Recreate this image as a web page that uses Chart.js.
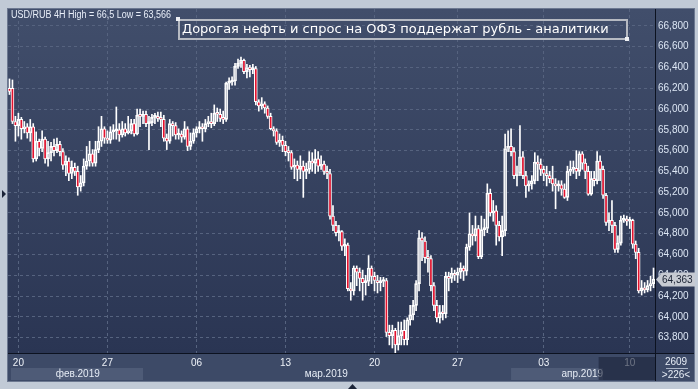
<!DOCTYPE html>
<html>
<head>
<meta charset="utf-8">
<script src="https://cdn.jsdelivr.net/npm/chart.js@4.4.1/dist/chart.umd.min.js"></script>
<style>
  html, body { margin: 0; padding: 0; background: #c1cad6; }
  canvas { display: block; }
</style>
</head>
<body>
<canvas id="chart" width="698" height="389"></canvas>
<script>
// USD/RUB 4H candles (prices in roubles)
const openP = [
  66.20, 66.20, 65.88, 65.84, 65.90, 65.81, 65.83, 65.77, 65.83, 65.52,
  65.69, 65.62, 65.71, 65.52, 65.58, 65.64, 65.60, 65.66, 65.59, 65.46,
  65.50, 65.38, 65.44, 65.40, 65.25, 65.29, 65.45, 65.50, 65.57, 65.48,
  65.61, 65.69, 65.81, 65.72, 65.70, 65.78, 65.79, 65.80, 65.75, 65.81,
  65.77, 65.79, 65.86, 65.76, 65.94, 65.93, 65.95, 65.86, 65.87, 65.92,
  65.93, 65.91, 65.90, 65.72, 65.69, 65.86, 65.84, 65.75, 65.76, 65.73,
  65.81, 65.64, 65.69, 65.77, 65.81, 65.82, 65.81, 65.86, 65.88, 65.86,
  65.96, 65.95, 65.91, 65.90, 66.25, 66.26, 66.27, 66.41, 66.44, 66.47,
  66.36, 66.40, 66.38, 66.39, 66.07, 66.03, 66.05, 66.01, 65.93, 65.81,
  65.79, 65.68, 65.70, 65.65, 65.59, 65.58, 65.44, 65.46, 65.42, 65.45,
  65.40, 65.42, 65.50, 65.48, 65.52, 65.45, 65.47, 65.40, 65.38, 64.97,
  64.88, 64.81, 64.82, 64.68, 64.69, 64.27, 64.25, 64.47, 64.43, 64.37,
  64.33, 64.34, 64.47, 64.39, 64.35, 64.33, 64.34, 64.35, 63.85, 63.82,
  63.87, 63.73, 63.82, 63.87, 63.78, 63.97, 64.02, 64.11, 64.32, 64.76,
  64.73, 64.57, 64.56, 64.30, 64.11, 63.99, 64.04, 64.03, 64.39, 64.37,
  64.42, 64.40, 64.43, 64.47, 64.44, 64.67, 64.80, 64.78, 64.85, 64.58,
  64.84, 64.85, 65.19, 65.00, 65.02, 64.88, 64.77, 64.83, 65.62, 65.64,
  65.59, 65.36, 65.38, 65.54, 65.36, 65.26, 65.28, 65.31, 65.49, 65.47,
  65.42, 65.38, 65.36, 65.33, 65.28, 65.26, 65.27, 65.23, 65.15, 65.40,
  65.42, 65.43, 65.40, 65.57, 65.48, 65.40, 65.18, 65.33, 65.31, 65.50,
  65.42, 65.17, 64.91, 64.93, 64.88, 64.65, 64.71, 64.93, 64.94, 64.92,
  64.93, 64.70, 64.62, 64.25, 64.28, 64.26, 64.30, 64.32
];
const highP = [
  66.29, 66.28, 65.93, 65.96, 65.92, 65.88, 65.86, 65.90, 65.86, 65.78,
  65.71, 65.79, 65.73, 65.69, 65.68, 65.71, 65.72, 65.69, 65.62, 65.55,
  65.53, 65.50, 65.48, 65.45, 65.36, 65.52, 65.64, 65.69, 65.61, 65.69,
  65.83, 65.93, 65.83, 65.79, 65.83, 65.85, 66.02, 65.86, 65.88, 65.86,
  65.93, 65.90, 65.90, 66.00, 66.00, 65.98, 65.98, 65.93, 65.95, 65.96,
  65.97, 65.97, 65.94, 65.76, 65.90, 65.88, 65.87, 65.81, 65.79, 65.88,
  65.83, 65.77, 65.81, 65.83, 65.88, 65.86, 65.90, 65.93, 65.96, 66.04,
  66.01, 66.00, 65.98, 66.26, 66.30, 66.31, 66.44, 66.48, 66.50, 66.48,
  66.43, 66.42, 66.43, 66.41, 66.09, 66.11, 66.07, 66.03, 65.96, 65.83,
  65.81, 65.76, 65.74, 65.69, 65.64, 65.60, 65.52, 65.50, 65.55, 65.50,
  65.48, 65.59, 65.58, 65.61, 65.59, 65.55, 65.50, 65.45, 65.42, 65.07,
  64.92, 64.88, 64.83, 64.75, 64.71, 64.33, 64.49, 64.49, 64.47, 64.45,
  64.40, 64.59, 64.49, 64.43, 64.40, 64.38, 64.38, 64.37, 63.92, 63.92,
  63.89, 63.95, 63.95, 63.97, 63.99, 64.11, 64.16, 64.35, 64.83, 64.81,
  64.77, 64.64, 64.59, 64.33, 64.16, 64.11, 64.11, 64.43, 64.43, 64.47,
  64.45, 64.47, 64.52, 64.49, 64.70, 65.00, 64.88, 64.97, 64.88, 64.97,
  64.94, 65.28, 65.23, 65.12, 65.07, 64.92, 64.97, 65.76, 65.79, 65.81,
  65.63, 65.45, 65.84, 65.59, 65.40, 65.31, 65.36, 65.58, 65.55, 65.52,
  65.45, 65.45, 65.40, 65.45, 65.33, 65.31, 65.31, 65.28, 65.45, 65.50,
  65.50, 65.60, 65.59, 65.59, 65.52, 65.45, 65.40, 65.40, 65.59, 65.55,
  65.45, 65.19, 65.00, 65.12, 64.91, 64.78, 64.97, 64.98, 64.97, 64.96,
  64.94, 64.73, 64.66, 64.35, 64.33, 64.35, 64.39, 64.47
];
const lowP = [
  66.14, 65.86, 65.69, 65.74, 65.71, 65.77, 65.72, 65.69, 65.49, 65.50,
  65.55, 65.59, 65.48, 65.45, 65.50, 65.55, 65.58, 65.55, 65.42, 65.36,
  65.31, 65.33, 65.36, 65.17, 65.21, 65.26, 65.42, 65.45, 65.45, 65.45,
  65.58, 65.64, 65.67, 65.67, 65.67, 65.71, 65.71, 65.69, 65.73, 65.74,
  65.76, 65.76, 65.74, 65.75, 65.83, 65.86, 65.83, 65.61, 65.84, 65.86,
  65.88, 65.83, 65.69, 65.61, 65.67, 65.74, 65.71, 65.71, 65.68, 65.71,
  65.60, 65.61, 65.67, 65.73, 65.77, 65.69, 65.78, 65.83, 65.82, 65.84,
  65.88, 65.88, 65.86, 65.88, 66.19, 66.23, 66.23, 66.39, 66.40, 66.34,
  66.30, 66.31, 66.34, 66.04, 65.98, 66.00, 65.96, 65.91, 65.80, 65.74,
  65.66, 65.64, 65.59, 65.55, 65.50, 65.42, 65.33, 65.31, 65.33, 65.15,
  65.33, 65.38, 65.40, 65.38, 65.40, 65.42, 65.37, 65.33, 64.94, 64.83,
  64.78, 64.73, 64.64, 64.59, 64.25, 64.16, 64.21, 64.30, 64.25, 64.16,
  64.21, 64.30, 64.32, 64.25, 64.23, 64.25, 64.29, 63.81, 63.73, 63.70,
  63.566, 63.68, 63.73, 63.73, 63.73, 63.92, 63.97, 64.06, 64.25, 64.54,
  64.52, 64.43, 64.25, 64.06, 63.95, 63.94, 63.97, 63.99, 64.25, 64.33,
  64.35, 64.33, 64.37, 64.35, 64.40, 64.64, 64.69, 64.73, 64.56, 64.56,
  64.78, 64.81, 64.97, 64.92, 64.69, 64.73, 64.59, 64.78, 65.59, 65.55,
  65.33, 65.26, 65.36, 65.33, 65.15, 65.21, 65.23, 65.28, 65.31, 65.36,
  65.31, 65.26, 65.29, 65.21, 65.04, 65.21, 65.17, 65.14, 65.12, 65.36,
  65.38, 65.33, 65.36, 65.42, 65.33, 65.17, 65.17, 65.26, 65.28, 65.31,
  65.14, 64.88, 64.83, 64.81, 64.62, 64.62, 64.69, 64.91, 64.88, 64.85,
  64.66, 64.56, 64.23, 64.21, 64.23, 64.24, 64.25, 64.28
];
const closeP = [
  66.17, 65.88, 65.84, 65.90, 65.81, 65.83, 65.77, 65.83, 65.52, 65.69,
  65.62, 65.71, 65.52, 65.58, 65.64, 65.60, 65.66, 65.59, 65.46, 65.50,
  65.38, 65.44, 65.40, 65.25, 65.29, 65.45, 65.50, 65.57, 65.48, 65.61,
  65.69, 65.81, 65.72, 65.70, 65.78, 65.79, 65.80, 65.75, 65.81, 65.77,
  65.79, 65.86, 65.76, 65.94, 65.93, 65.95, 65.86, 65.87, 65.92, 65.93,
  65.91, 65.90, 65.72, 65.69, 65.86, 65.84, 65.75, 65.76, 65.73, 65.81,
  65.64, 65.69, 65.77, 65.81, 65.82, 65.81, 65.86, 65.88, 65.86, 65.96,
  65.95, 65.91, 65.90, 66.25, 66.26, 66.27, 66.41, 66.44, 66.47, 66.36,
  66.40, 66.38, 66.39, 66.07, 66.03, 66.05, 66.01, 65.93, 65.81, 65.79,
  65.68, 65.70, 65.65, 65.59, 65.58, 65.44, 65.46, 65.42, 65.45, 65.40,
  65.42, 65.50, 65.48, 65.52, 65.45, 65.47, 65.40, 65.38, 64.97, 64.88,
  64.81, 64.82, 64.68, 64.69, 64.27, 64.25, 64.47, 64.43, 64.37, 64.33,
  64.34, 64.47, 64.39, 64.35, 64.33, 64.34, 64.35, 63.85, 63.82, 63.87,
  63.73, 63.82, 63.87, 63.78, 63.97, 64.02, 64.11, 64.32, 64.76, 64.73,
  64.57, 64.56, 64.30, 64.11, 63.99, 64.04, 64.03, 64.39, 64.37, 64.42,
  64.40, 64.43, 64.47, 64.44, 64.67, 64.80, 64.78, 64.85, 64.58, 64.84,
  64.85, 65.19, 65.00, 65.02, 64.88, 64.77, 64.83, 65.62, 65.64, 65.59,
  65.36, 65.38, 65.54, 65.36, 65.26, 65.28, 65.31, 65.49, 65.47, 65.42,
  65.38, 65.36, 65.33, 65.28, 65.26, 65.27, 65.23, 65.15, 65.40, 65.42,
  65.43, 65.40, 65.57, 65.48, 65.40, 65.18, 65.33, 65.31, 65.50, 65.42,
  65.17, 64.91, 64.93, 64.88, 64.65, 64.71, 64.93, 64.94, 64.92, 64.93,
  64.70, 64.62, 64.25, 64.28, 64.26, 64.30, 64.32, 64.363
];

// axis labels
const weekTickIdx = [3, 33, 63, 93, 123, 151, 180, 209];
const weekTickLabels = ['20', '27', '06', '13', '20', '27', '03', '10'];
const priceTicks = [63.8, 64.0, 64.2, 64.4, 64.6, 64.8, 65.0, 65.2, 65.4, 65.6, 65.8, 66.0, 66.2, 66.4, 66.6, 66.8];
const monthLabels = ['фев.2019', 'мар.2019', 'апр.2019'];
const monthLabelIdx = [23, 114, 200];
const yMin = 63.652, yMax = 66.963;

const headerText = 'USD/RUB 4H High = 66,5 Low = 63,566';
const newsText = 'Дорогая нефть и спрос на ОФЗ поддержат рубль - аналитики';

const barLabels = closeP.map((_, i) => String(i));
const isBear = closeP.map((c, i) => c < openP[i]);

const BULL = 'rgba(0,0,0,0)';
const BEAR = '#e3122e';
const fmt = v => v.toFixed(3).replace('.', ',');

const decor = {
  id: 'decor',
  beforeDraw(chart) {
    const { ctx, chartArea: a } = chart;
    const xs = chart.scales.x;
    ctx.save();
    ctx.fillStyle = '#c1cad6';
    ctx.fillRect(0, 0, 698, 389);
    // plot + price panel
    const g = ctx.createLinearGradient(0, a.top, 0, a.bottom);
    g.addColorStop(0, '#414e6b');
    g.addColorStop(1, '#2a3553');
    ctx.fillStyle = g;
    ctx.fillRect(a.left, a.top, 694 - a.left, a.bottom - a.top);
    // time panel
    ctx.fillStyle = '#3d4a67';
    ctx.fillRect(a.left, a.bottom, 694 - a.left, 381 - a.bottom);
    // lighter month bands
    ctx.fillStyle = '#4e5b77';
    ctx.fillRect(11, 368, xs.getPixelForValue(45) - 11, 12);
    ctx.fillRect(xs.getPixelForValue(169), 368, xs.getPixelForValue(200) - xs.getPixelForValue(169), 12);
    ctx.restore();
  },
  afterDraw(chart) {
    const { ctx, chartArea: a } = chart;
    const xs = chart.scales.x, ys = chart.scales.y;
    ctx.save();
    // month labels
    ctx.font = '10px "Liberation Sans", Arial, sans-serif';
    ctx.fillStyle = '#e6ecf5';
    ctx.textBaseline = 'middle';
    ctx.textAlign = 'center';
    ctx.fillText(monthLabels[0], xs.getPixelForValue(monthLabelIdx[0]), 374);
    ctx.textAlign = 'right';
    ctx.fillText(monthLabels[1], xs.getPixelForValue(monthLabelIdx[1]), 374);
    ctx.fillText(monthLabels[2], xs.getPixelForValue(monthLabelIdx[2]), 374);
    // dark shift box over the last week
    ctx.fillStyle = 'rgba(28,36,58,0.62)';
    ctx.fillRect(xs.getPixelForValue(198.5), 357, a.right - xs.getPixelForValue(198.5), 23);
    // separators
    ctx.strokeStyle = '#0c1220';
    ctx.lineWidth = 1;
    ctx.beginPath();
    ctx.moveTo(a.right + 0.5, a.top); ctx.lineTo(a.right + 0.5, 381);
    ctx.moveTo(a.left, a.bottom + 0.5); ctx.lineTo(694, a.bottom + 0.5);
    ctx.stroke();
    ctx.strokeStyle = '#6c7890';
    ctx.strokeRect(a.left - 0.5, a.top - 0.5, 694 - a.left + 1, 381 - a.top + 1);
    // header
    ctx.fillStyle = '#e8eef8';
    ctx.textAlign = 'left';
    ctx.fillText(headerText, 11, 15, 160);
    // news box
    ctx.strokeStyle = '#b6bac2';
    ctx.lineWidth = 2;
    ctx.strokeRect(179, 20, 448, 19);
    ctx.fillStyle = '#eef0f4';
    ctx.fillRect(176, 17, 4, 4);
    ctx.fillRect(625, 37, 4, 4);
    ctx.fillStyle = '#ffffff';
    ctx.font = '13px "DejaVu Sans", sans-serif';
    ctx.fillText(newsText, 182, 29.5, 428);
    // price label with arrow
    const last = closeP[closeP.length - 1];
    const py = Math.round(ys.getPixelForValue(last)) + 0.5;
    ctx.fillStyle = '#c6cad2';
    ctx.beginPath();
    ctx.moveTo(656, py);
    ctx.lineTo(662, py - 7);
    ctx.lineTo(695, py - 7);
    ctx.lineTo(695, py + 7);
    ctx.lineTo(662, py + 7);
    ctx.closePath();
    ctx.fill();
    ctx.fillStyle = '#1a2233';
    ctx.font = '10px "Liberation Sans", Arial, sans-serif';
    ctx.fillText(fmt(last), 662, py + 0.5);
    // corner counters
    ctx.fillStyle = '#e6ecf5';
    ctx.textAlign = 'center';
    ctx.fillText('2609', 676, 362);
    ctx.fillText('>226<', 676, 375);
    ctx.strokeStyle = '#aab4c6';
    ctx.lineWidth = 1;
    ctx.beginPath();
    ctx.moveTo(666, 368.5); ctx.lineTo(688, 368.5);
    ctx.stroke();
    // shift markers
    ctx.fillStyle = '#1b2438';
    ctx.beginPath();
    ctx.moveTo(2, 190); ctx.lineTo(6, 194); ctx.lineTo(2, 198); ctx.closePath();
    ctx.fill();
    ctx.beginPath();
    ctx.moveTo(348, 389); ctx.lineTo(352.5, 384); ctx.lineTo(357, 389); ctx.closePath();
    ctx.fill();
    ctx.restore();
  }
};

const axisFont = { family: '"Liberation Sans", Arial, sans-serif', size: 10 };

new Chart(document.getElementById('chart'), {
  type: 'bar',
  data: {
    labels: barLabels,
    datasets: [
      {
        // bodies
        data: openP.map((o, i) => [o, closeP[i]]),
        backgroundColor: isBear.map(b => b ? BEAR : BULL),
        borderColor: '#ffffff',
        borderWidth: 1,
        borderSkipped: false,
        barThickness: 3,
        minBarLength: 2,
        grouped: false
      },
      {
        // upper wicks
        data: highP.map((h, i) => [Math.max(openP[i], closeP[i]), h]),
        backgroundColor: '#ffffff',
        borderWidth: 0,
        barThickness: 1,
        grouped: false
      },
      {
        // lower wicks
        data: lowP.map((l, i) => [l, Math.min(openP[i], closeP[i])]),
        backgroundColor: '#ffffff',
        borderWidth: 0,
        barThickness: 1,
        grouped: false
      }
    ]
  },
  options: {
    responsive: false,
    animation: false,
    layout: { padding: { left: 8, top: 7, right: 0, bottom: 0 } },
    plugins: {
      legend: { display: false },
      tooltip: { enabled: false }
    },
    scales: {
      x: {
        offset: true,
        grid: { color: '#56637f', drawTicks: false, offset: false },
        border: { display: false, dash: [3, 3] },
        ticks: {
          color: '#eef2f8',
          font: axisFont,
          padding: 4,
          autoSkip: false,
          maxRotation: 0,
          callback: (v, i) => weekTickLabels[i]
        },
        afterBuildTicks: s => { s.ticks = weekTickIdx.map(v => ({ value: v })); },
        afterFit: s => { s.height = 36; }
      },
      y: {
        position: 'right',
        min: yMin,
        max: yMax,
        grid: { color: '#56637f', drawTicks: false },
        border: { display: false, dash: [3, 3] },
        ticks: {
          color: '#dce6f4',
          font: axisFont,
          padding: 3,
          callback: v => fmt(v)
        },
        afterBuildTicks: s => { s.ticks = priceTicks.map(v => ({ value: v })); },
        afterFit: s => { s.width = 43; }
      }
    }
  },
  plugins: [decor]
});
</script>
</body>
</html>
